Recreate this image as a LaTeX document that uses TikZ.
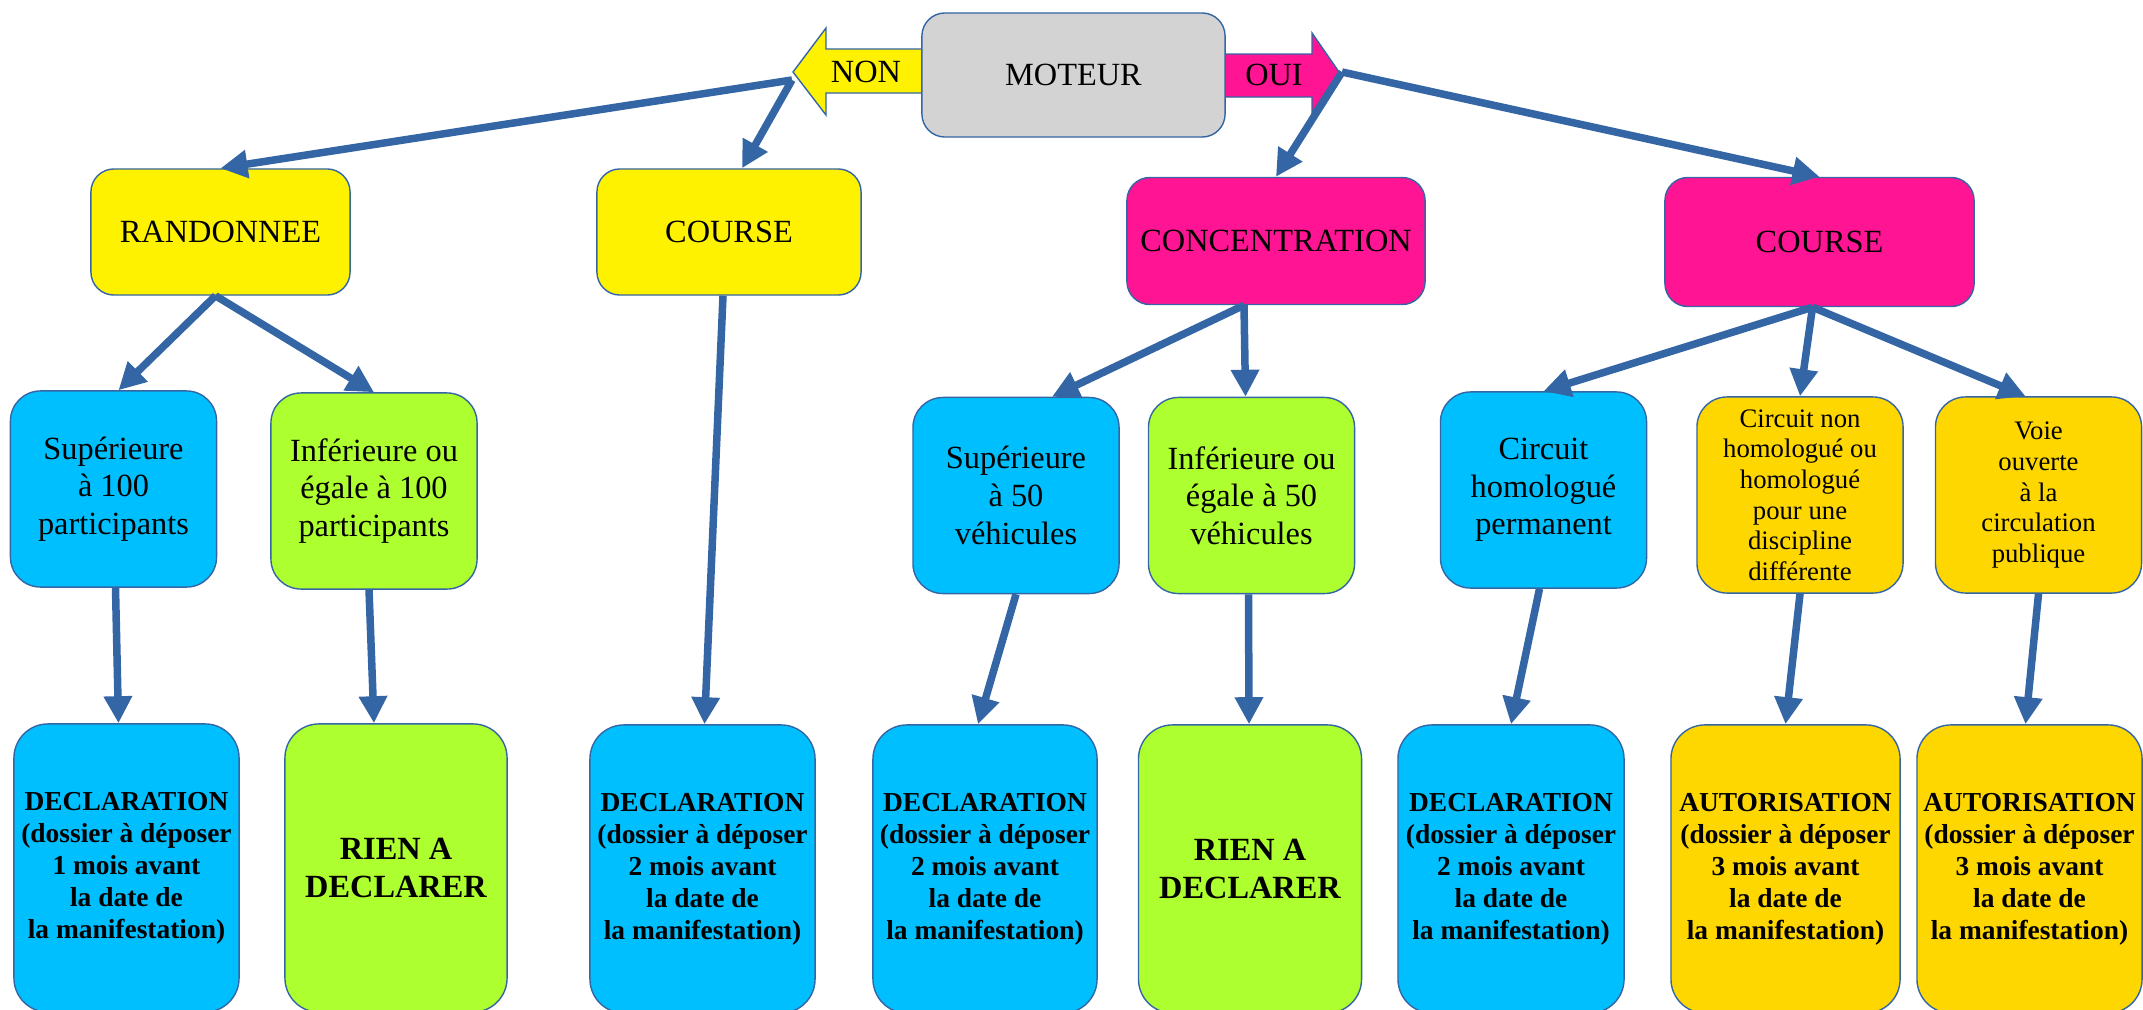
\documentclass[tikz,border=0pt]{standalone}
\usepackage{fontspec}
\setmainfont{Liberation Serif}
\usepackage{xcolor}
\usetikzlibrary{arrows.meta}
\usetikzlibrary{calc}

\definecolor{arrowblue}{HTML}{3465A4}
\definecolor{skyblue}{HTML}{00BFFF}
\definecolor{lime}{HTML}{ADFF2F}
\definecolor{gold}{HTML}{FFD700}
\definecolor{hotpink}{HTML}{FF1493}
\definecolor{greybox}{HTML}{D3D3D3}

\begin{document}
\begin{tikzpicture}[x=0.01cm, y=-0.01cm,
    box/.style={rounded corners=0.23cm, draw=arrowblue, line width=0.4pt, inner sep=0pt, align=center, font=\fontsize{9.2}{10.7}\selectfont},
    toprow/.style={box, minimum height=1.27cm},
    midrow/.style={box, rounded corners=0.3cm, minimum width=2.06cm, minimum height=1.96cm},
    botrow/.style={box, rounded corners=0.34cm, minimum width=2.25cm, minimum height=2.88cm, font=\fontsize{7.8}{9.1}\selectfont\bfseries},
    small/.style={font=\fontsize{7.6}{8.7}\selectfont},
    rien/.style={font=\fontsize{9.2}{10.9}\selectfont\bfseries},
    fleche/.style={arrowblue, line width=0.075cm, -{Triangle[length=0.27cm, width=0.27cm]}}]
    \useasboundingbox (0,0) rectangle (2143,1009);

    % NON / OUI arrows behind the MOTEUR box
    \draw[fill=yellow, draw=arrowblue, line width=0.4pt] (793,72) -- (826,28) -- (826,49) -- (930,49) -- (930,93) -- (826,93) -- (826,115) -- cycle;
    \draw[fill=hotpink, draw=arrowblue, line width=0.4pt] (1215,54) -- (1312,54) -- (1312,33) -- (1339,72) -- (1312,113) -- (1312,97) -- (1215,97) -- cycle;
    \node[font=\fontsize{9.2}{10.7}\selectfont] (non) at (866,72) {NON};
    \node[font=\fontsize{9.2}{10.7}\selectfont] (oui) at (1274,75) {OUI};
    \coordinate (nontip) at (792,80);
    \coordinate (ouitip) at (1342,72);

    \node[box, fill=greybox, minimum width=3.03cm, minimum height=1.24cm] (moteur) at (1073.5,75) {MOTEUR};

    % first row
    \node[toprow, fill=yellow, minimum width=2.59cm, minimum height=1.26cm] (rando) at (220.5,232) {RANDONNEE};
    \node[toprow, fill=yellow, minimum width=2.64cm, minimum height=1.26cm] (courseNon) at (729,232) {COURSE};
    \node[toprow, fill=hotpink, minimum width=2.98cm] (concentr) at (1276,241) {CONCENTRATION};
    \node[toprow, fill=hotpink, minimum width=3.09cm, minimum height=1.29cm] (courseOui) at (1819.5,242) {COURSE};

    % second row
    \node[midrow, fill=skyblue] (sup100) at (113.5,489) {Supérieure\\à 100\\participants};
    \node[midrow, fill=lime] (inf100) at (374,491) {Inférieure ou\\égale à 100\\participants};
    \node[midrow, fill=skyblue] (sup50) at (1016,495.5) {Supérieure\\à 50\\véhicules};
    \node[midrow, fill=lime] (inf50) at (1251.5,495.5) {Inférieure ou\\égale à 50\\véhicules};
    \node[midrow, fill=skyblue] (circHomol) at (1543.5,490) {Circuit\\homologué\\permanent};
    \node[midrow, small, fill=gold] (circNon) at (1800,495) {Circuit non\\homologué ou\\homologué\\pour une\\discipline\\différente};
    \node[midrow, small, fill=gold] (voie) at (2038.5,495) {Voie\\ouverte\\à la\\circulation\\publique};

    % third row
    \node[botrow, fill=skyblue] (decl1) at (126.5,868) {DECLARATION\\(dossier à déposer\\1 mois avant\\la date de\\la manifestation)};
    \node[botrow, rien, fill=lime, minimum width=2.22cm] (rien1) at (396,868) {RIEN A\\DECLARER};
    \node[botrow, fill=skyblue] (decl2) at (702.5,869) {DECLARATION\\(dossier à déposer\\2 mois avant\\la date de\\la manifestation)};
    \node[botrow, fill=skyblue, minimum width=2.24cm] (decl3) at (985,869) {DECLARATION\\(dossier à déposer\\2 mois avant\\la date de\\la manifestation)};
    \node[botrow, rien, fill=lime, minimum width=2.23cm] (rien2) at (1250,869) {RIEN A\\DECLARER};
    \node[botrow, fill=skyblue, minimum width=2.26cm] (decl4) at (1511,869) {DECLARATION\\(dossier à déposer\\2 mois avant\\la date de\\la manifestation)};
    \node[botrow, fill=gold, minimum width=2.29cm] (autor1) at (1785.5,869) {AUTORISATION\\(dossier à déposer\\3 mois avant\\la date de\\la manifestation)};
    \node[botrow, fill=gold] (autor2) at (2029.5,869) {AUTORISATION\\(dossier à déposer\\3 mois avant\\la date de\\la manifestation)};

    % connectors
    \draw[fleche] (nontip) -- (rando.north);
    \draw[fleche] (nontip) -- ($(courseNon.north)+(13,0)$);
    \draw[fleche] (ouitip) -- (concentr.north);
    \draw[fleche] (ouitip) -- (courseOui.north);

    \draw[fleche] ($(rando.south)+(-5,0)$) -- ($(sup100.north)+(5,0)$);
    \draw[fleche] ($(rando.south)+(-5,0)$) -- (inf100.north);
    \draw[fleche] ($(courseNon.south)+(-6,0)$) -- ($(decl2.north)+(2,0)$);
    \draw[fleche] ($(concentr.south)+(-32,0)$) -- ($(sup50.north)+(36,0)$);
    \draw[fleche] ($(concentr.south)+(-32,0)$) -- ($(inf50.north)+(-6,0)$);
    \draw[fleche] ($(courseOui.south)+(-7,0)$) -- (circHomol.north);
    \draw[fleche] ($(courseOui.south)+(-7,0)$) -- (circNon.north);
    \draw[fleche] ($(courseOui.south)+(-7,0)$) -- ($(voie.north)+(-13,0)$);

    \draw[fleche] ($(sup100.south)+(2,0)$) -- ($(decl1.north)+(-8,0)$);
    \draw[fleche] ($(inf100.south)+(-5,0)$) -- ($(rien1.north)+(-22,0)$);
    \draw[fleche] (sup50.south) -- ($(decl3.north)+(-7,0)$);
    \draw[fleche] ($(inf50.south)+(-3,0)$) -- ($(rien2.north)+(-1,0)$);
    \draw[fleche] ($(circHomol.south)+(-4,0)$) -- (decl4.north);
    \draw[fleche] (circNon.south) -- (autor1.north);
    \draw[fleche] (voie.south) -- ($(autor2.north)+(-4,0)$);
\end{tikzpicture}
\end{document}
